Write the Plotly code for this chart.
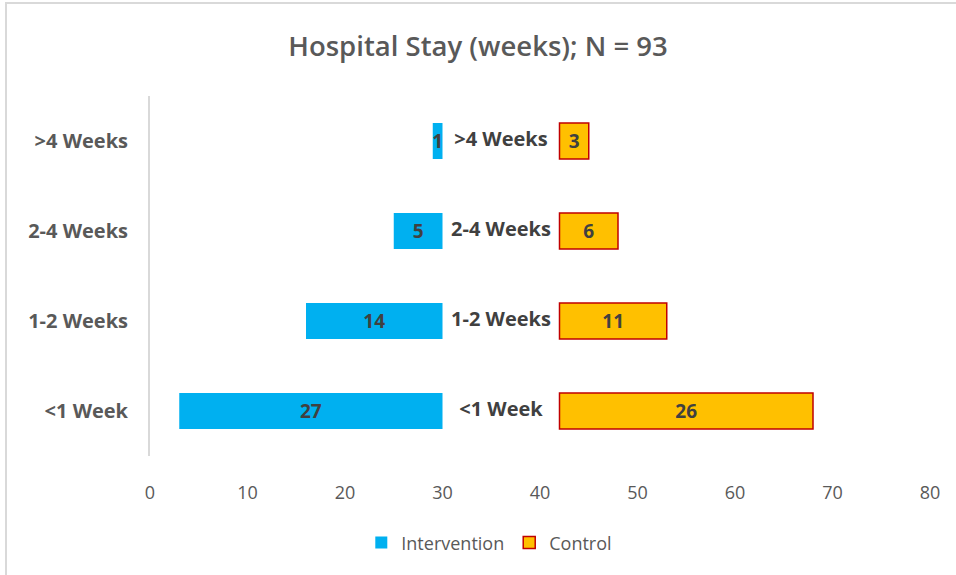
import plotly.graph_objects as go

categories = ["<1 Week", "1-2 Weeks", "2-4 Weeks", ">4 Weeks"]
intervention = [27, 14, 5, 1]
control = [26, 11, 6, 3]
split = 30      # intervention bars end here
gap_start = 42  # control bars start here
label_x = 36    # middle category labels
x_ticks = [0, 10, 20, 30, 40, 50, 60, 70, 80]

font = "Open Sans"

fig = go.Figure()
fig.add_trace(
    go.Bar(
        y=categories,
        x=intervention,
        base=[split - v for v in intervention],
        orientation="h",
        name="Intervention",
        marker=dict(color="#00b0f0", line=dict(width=0)),
        width=0.4,
        text=intervention,
        textposition="inside",
        insidetextanchor="middle",
        constraintext="none",
        textfont=dict(family=font, size=19, color="#404040", weight="bold"),
        cliponaxis=False,
    )
)
fig.add_trace(
    go.Bar(
        y=categories,
        x=control,
        base=[gap_start] * len(control),
        orientation="h",
        name="Control",
        marker=dict(color="#ffc000", line=dict(color="#c00000", width=1.5)),
        width=0.4,
        text=control,
        textposition="inside",
        insidetextanchor="middle",
        constraintext="none",
        textfont=dict(family=font, size=19, color="#404040", weight="bold"),
        cliponaxis=False,
    )
)
# category names between the two halves
fig.add_trace(
    go.Scatter(
        y=categories,
        x=[label_x] * len(categories),
        mode="text",
        text=categories,
        textposition="middle center",
        textfont=dict(family=font, size=20, color="#404040", weight="bold"),
        showlegend=False,
        hoverinfo="skip",
        cliponaxis=False,
    )
)

fig.update_layout(
    width=956,
    height=575,
    barmode="overlay",
    paper_bgcolor="white",
    plot_bgcolor="white",
    margin=dict(l=150, r=26, t=96, b=119),
    title=dict(
        text="Hospital Stay (weeks); N = 93",
        x=0.5,
        xanchor="center",
        y=1 - 46 / 575,
        yanchor="middle",
        font=dict(family=font, size=27.5, color="#595959", weight=600),
    ),
    xaxis=dict(
        range=[0, 80],
        tickvals=x_ticks,
        showgrid=False,
        zeroline=False,
        showline=False,
        ticks="",
        ticklabelstandoff=24,
        tickfont=dict(family=font, size=18, color="#595959"),
    ),
    yaxis=dict(
        showgrid=False,
        zeroline=False,
        showline=True,
        linecolor="#d9d9d9",
        linewidth=2,
        ticks="",
        ticklabelstandoff=16,
        tickfont=dict(family=font, size=20, color="#595959", weight="bold"),
    ),
    legend=dict(
        orientation="h",
        x=0.435,
        xanchor="center",
        y=-0.19,
        yanchor="top",
        font=dict(family=font, size=18, color="#595959"),
        itemwidth=30,
    ),
    showlegend=True,
)

# chart area border
fig.add_shape(
    type="rect",
    xref="paper",
    yref="paper",
    x0=(6 - 150) / 780,
    x1=(970 - 150) / 780,
    y0=(456 - 590) / 360,
    y1=(456 - 3) / 360,
    line=dict(color="#d9d9d9", width=2),
    fillcolor="rgba(0,0,0,0)",
    layer="below",
)

# drop the browser's default page margin so the figure sits at the window origin
fig.write_html(
    "out.html",
    config={"displayModeBar": False},
    post_script="document.body.style.margin = '0';",
)
